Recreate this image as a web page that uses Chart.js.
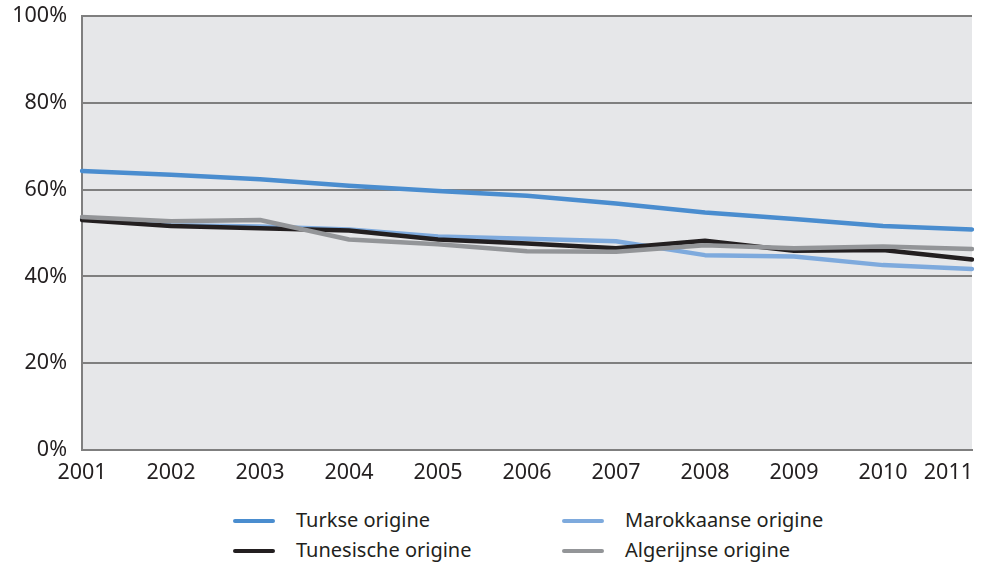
<!DOCTYPE html>
<html lang="nl">
  <head>
    <meta charset="UTF-8" />
    <title>Aandeel per herkomstgroep</title>
    <script src="https://cdn.jsdelivr.net/npm/chart.js"></script>
    <style>
      html, body { margin: 0; padding: 0; background: #fff; overflow: hidden; }
      .wrap { position: relative; width: 981px; height: 565px; font-family: "Noto Sans", sans-serif; }
      canvas { position: absolute; left: 0; top: 0; }
      .legend { position: absolute; left: 0; top: 505px; width: 981px; }
      .item { position: absolute; font-size: 20px; color: #231f20; line-height: 30px; white-space: nowrap; }
      .item span.swatch { display: inline-block; width: 42px; height: 4px; border-radius: 2px; vertical-align: middle; margin-right: 21px; position: relative; top: -1px; }
    </style>
  </head>
  <body>
    <div class="wrap">
      <canvas id="chart" width="981" height="490"></canvas>
      <div class="legend" id="legend"></div>
    </div>

    <script>
      const years = ["2001", "2002", "2003", "2004", "2005", "2006", "2007", "2008", "2009", "2010", "2011"];
      const yTicks = [0, 20, 40, 60, 80, 100];

      const turkse = [64.3, 63.4, 62.4, 60.9, 59.7, 58.6, 56.8, 54.7, 53.2, 51.6, 50.8];
      const marokkaanse = [53.3, 51.8, 51.5, 50.8, 49.2, 48.7, 48.1, 44.9, 44.6, 42.6, 41.7];
      const tunesische = [53.0, 51.6, 51.1, 50.6, 48.5, 47.6, 46.5, 48.2, 45.9, 46.1, 43.9];
      const algerijnse = [53.7, 52.7, 53.0, 48.5, 47.4, 45.8, 45.7, 47.2, 46.5, 46.9, 46.3];

      const seriesNames = ["Turkse origine", "Marokkaanse origine", "Tunesische origine", "Algerijnse origine"];
      const seriesColors = ["#4a8dcf", "#7eaadd", "#231f20", "#939598"];

      // plot background
      const plotBg = {
        id: "plotBg",
        beforeDraw(chart) {
          const { ctx, chartArea: a } = chart;
          ctx.save();
          ctx.fillStyle = "#e6e7e9";
          ctx.fillRect(a.left, a.top, a.right - a.left, a.bottom - a.top);
          ctx.restore();
        },
      };

      // x labels, last one kept inside the canvas
      const xLabels = {
        id: "xLabels",
        afterDraw(chart) {
          const { ctx } = chart;
          const xs = chart.scales.x;
          ctx.save();
          ctx.font = "21.5px 'Noto Sans'";
          ctx.fillStyle = "#231f20";
          ctx.textBaseline = "middle";
          years.forEach((y, i) => {
            let px = xs.getPixelForValue(i);
            const w = ctx.measureText(y).width;
            ctx.textAlign = "center";
            if (px + w / 2 > chart.width - 8) px = chart.width - 8 - w / 2;
            ctx.fillText(y, px, chart.chartArea.bottom + 23);
          });
          ctx.restore();
        },
      };

      const datasets = [turkse, marokkaanse, tunesische, algerijnse].map((d, i) => ({
        label: seriesNames[i],
        data: d,
        borderColor: seriesColors[i],
        backgroundColor: seriesColors[i],
        borderWidth: 4.5,
        borderCapStyle: "round",
        borderJoinStyle: "round",
        pointRadius: 0,
        tension: 0,
        fill: false,
        order: [3, 2, 1, 0][i],
      }));

      new Chart(document.getElementById("chart").getContext("2d"), {
        type: "line",
        data: { labels: years, datasets: datasets },
        options: {
          responsive: false,
          animation: false,
          layout: { padding: { top: 16, right: 9, left: 0, bottom: 0 } },
          plugins: { legend: { display: false }, tooltip: { enabled: false } },
          scales: {
            x: {
              offset: false,
              grid: { display: false, drawTicks: false },
              border: { display: true, color: "#7f7f7f", width: 2 },
              ticks: { display: false },
              afterFit(s) { s.height = 40; },
            },
            y: {
              min: 0,
              max: 100,
              afterBuildTicks(s) { s.ticks = yTicks.map((v) => ({ value: v })); },
              grid: { color: "#7f7f7f", lineWidth: 2, drawTicks: false },
              border: { display: true, color: "#7f7f7f", width: 2 },
              ticks: {
                padding: 15,
                color: "#231f20",
                font: { family: "Noto Sans", size: 21.5 },
                callback: (v) => v + "%",
              },
              afterFit(s) {
                s.width = 82;
                s.paddingTop = 0;
                s.paddingBottom = 0;
              },
            },
          },
        },
        plugins: [plotBg, xLabels],
      });

      // legend in two columns
      const legendPos = [[233, 0], [562, 0], [233, 30], [562, 30]];
      const legend = document.getElementById("legend");
      seriesNames.forEach((n, i) => {
        const el = document.createElement("div");
        el.className = "item";
        el.style.left = legendPos[i][0] + "px";
        el.style.top = legendPos[i][1] + "px";
        el.innerHTML = '<span class="swatch" style="background:' + seriesColors[i] + '"></span>' + n;
        legend.appendChild(el);
      });
    </script>
  </body>
</html>
